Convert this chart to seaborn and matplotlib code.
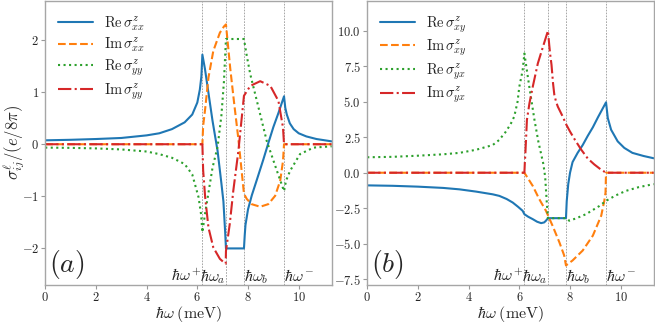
import matplotlib
matplotlib.use("Agg")
import matplotlib.pyplot as plt
import numpy as np
import pandas as pd
import seaborn as sns

# resonance energies (meV) and their labels
w_res = [6.2, 7.13, 7.84, 9.42]
w_res_labels = [r'$\hbar\omega^+$', r'$\hbar\omega_a$', r'$\hbar\omega_b$', r'$\hbar\omega^-$']
w_res_align = ['right', 'right', 'left', 'left']

# ---- panel (a): diagonal components ----
w_re_xx = [0, 1, 2, 3, 4, 4.5, 5, 5.5, 5.8, 6.0, 6.1, 6.16, 6.2, 6.3, 6.45, 6.6, 6.8, 6.95, 7.03, 7.1, 7.13,
           7.84, 7.87, 7.9, 8.0, 8.15, 8.35, 8.6, 8.8, 9.0, 9.2, 9.42,
           9.47, 9.53, 9.65, 9.8, 10.0, 10.3, 10.7, 11.3]
re_xx = [0.075, 0.085, 0.10, 0.12, 0.17, 0.21, 0.29, 0.42, 0.57, 0.80, 1.05, 1.3, 1.72, 1.45, 0.95, 0.45, -0.13, -0.75, -1.1, -1.7, -2.0,
         -2.0, -1.75, -1.55, -1.25, -0.98, -0.68, -0.3, 0.02, 0.33, 0.6, 0.92,
         0.7, 0.57, 0.4, 0.29, 0.21, 0.15, 0.1, 0.055]

w_im_xx = [0, 6.2, 6.23, 6.31, 6.44, 6.63, 6.89, 7.05, 7.13,
           7.3, 7.45, 7.62, 7.84, 7.95, 8.14, 8.48, 8.8, 9.07, 9.27, 9.38, 9.42, 11.3]
im_xx = [0, 0, 0.35, 0.68, 1.28, 1.79, 2.14, 2.26, 2.3,
         1.45, 0.8, 0.1, -0.95, -1.05, -1.15, -1.2, -1.15, -0.99, -0.7, -0.32, 0, 0]

w_re_yy = [0, 1, 2, 3, 4, 4.5, 5, 5.5, 5.8, 6.05, 6.15, 6.2,
           6.3, 6.45, 6.6, 6.8, 6.95, 7.05, 7.13, 7.84,
           7.95, 8.09, 8.35, 8.74, 9.14, 9.42,
           9.5, 9.66, 10.05, 10.58, 11.3]
re_yy = [-0.065, -0.07, -0.08, -0.1, -0.14, -0.19, -0.26, -0.38, -0.58, -1.02, -1.35, -1.69,
         -1.35, -0.9, -0.45, -0.05, 0.55, 1.2, 2.02, 2.02,
         1.7, 1.34, 0.83, 0.06, -0.51, -0.9,
         -0.7, -0.51, -0.19, -0.065, -0.04]

w_im_yy = [0, 6.2, 6.23, 6.31, 6.44, 6.63, 6.89, 7.05, 7.12, 7.13,
           7.28, 7.42, 7.62, 7.84, 8.09, 8.48, 8.88, 9.2, 9.38, 9.42, 11.3]
im_yy = [0, 0, -0.5, -1.02, -1.6, -1.98, -2.2, -2.27, -2.29, -2.05,
         -1.53, -0.89, -0.13, 0.93, 1.12, 1.21, 1.12, 0.83, 0.32, 0, 0]

# ---- panel (b): off-diagonal components ----
w_re_xy = [0, 1, 2, 3, 3.64, 4.3, 4.95, 5.21, 5.5, 5.74, 5.95, 6.13, 6.2, 6.35, 6.53, 6.7, 6.86, 6.98, 7.05, 7.13,
           7.84, 7.87, 7.93, 8.0, 8.1, 8.3, 8.5, 8.7, 8.9, 9.1, 9.42,
           9.49, 9.62, 9.88, 10.14, 10.46, 10.9, 11.3]
re_xy = [-0.89, -0.92, -0.98, -1.07, -1.17, -1.33, -1.52, -1.63, -1.85, -2.1, -2.4, -2.68, -2.92, -3.1, -3.27, -3.45, -3.55, -3.5, -3.38, -3.2,
         -3.2, -2.0, -0.8, 0.0, 0.75, 1.4, 1.95, 2.6, 3.2, 3.9, 4.96,
         3.85, 3.03, 2.21, 1.75, 1.4, 1.18, 1.02]

w_im_xy = [0, 6.2, 6.53, 6.79, 7.05, 7.31, 7.58, 7.77, 7.84,
           8.1, 8.5, 8.9, 9.23, 9.35, 9.4, 9.42, 11.3]
im_xy = [0, 0, -0.93, -1.87, -2.68, -3.73, -4.9, -5.83, -6.53,
         -6.18, -5.48, -4.43, -3.03, -2.0, -1.4, 0, 0]

w_re_yx = [0, 1, 2, 3, 3.64, 4.3, 4.95, 5.2, 5.45, 5.65, 5.8, 5.93, 6.0, 6.13, 6.2,
           6.39, 6.59, 6.75, 6.85, 6.95, 7.02, 7.08, 7.13, 7.84,
           7.97, 8.23, 8.63, 9.16, 9.42, 9.8, 10.2, 10.7, 11.3]
re_yx = [1.09, 1.12, 1.2, 1.3, 1.4, 1.62, 1.95, 2.3, 2.85, 3.4, 3.96, 5.0, 6.06, 7.2, 8.4,
         6.1, 3.8, 2.2, 1.4, 0.6, -0.3, -2.0, -3.2, -3.2,
         -3.38, -3.22, -2.92, -2.34, -1.98, -1.6, -1.28, -1.02, -0.8]

w_im_yx = [0, 6.2, 6.22, 6.24, 6.3, 6.4, 6.53, 6.73, 6.93, 7.13,
           7.18, 7.22, 7.27, 7.33, 7.38, 7.45, 7.52, 7.7, 7.85, 8.0, 8.2, 8.44, 8.7, 8.96, 9.2, 9.42, 11.3]
im_yx = [0, 0, 0.8, 1.4, 3.73, 4.9, 6.06, 7.7, 8.86, 10.0,
         9.0, 8.3, 7.6, 6.3, 5.5, 5.0, 4.65, 4.0, 3.4, 2.9, 2.3, 1.63, 1.0, 0.58, 0.25, 0, 0]

colors = ['#1f77b4', '#ff7f0e', '#2ca02c', '#d62728']
styles = ['-', '--', ':', '-.']

panel_a = [(w_re_xx, re_xx, r'$\mathrm{Re}\,\sigma^z_{xx}$'),
           (w_im_xx, im_xx, r'$\mathrm{Im}\,\sigma^z_{xx}$'),
           (w_re_yy, re_yy, r'$\mathrm{Re}\,\sigma^z_{yy}$'),
           (w_im_yy, im_yy, r'$\mathrm{Im}\,\sigma^z_{yy}$')]
panel_b = [(w_re_xy, re_xy, r'$\mathrm{Re}\,\sigma^z_{xy}$'),
           (w_im_xy, im_xy, r'$\mathrm{Im}\,\sigma^z_{xy}$'),
           (w_re_yx, re_yx, r'$\mathrm{Re}\,\sigma^z_{yx}$'),
           (w_im_yx, im_yx, r'$\mathrm{Im}\,\sigma^z_{yx}$')]

sns.set_style("ticks")
plt.rcParams['font.family'] = 'serif'
plt.rcParams['font.serif'] = ['cmr10']
plt.rcParams['mathtext.fontset'] = 'cm'
plt.rcParams['axes.formatter.use_mathtext'] = True
plt.rcParams['axes.unicode_minus'] = True


def draw_panel(ax, curves, ylim, yticks, tag):
    for (w, s, lab), c, ls in zip(curves, colors, styles):
        df = pd.DataFrame({'w': w, 's': s})
        sns.lineplot(data=df, x='w', y='s', ax=ax, color=c, linestyle=ls, linewidth=1.5,
                     label=lab, sort=False, estimator=None)
    for w0, txt, ha in zip(w_res, w_res_labels, w_res_align):
        ax.axvline(w0, color='0.6', lw=0.6, ls=(0, (2, 1.5)), zorder=0)
        ax.text(w0, ylim[0] + 0.012 * (ylim[1] - ylim[0]), txt, ha=ha, va='baseline', fontsize=11.5)
    ax.text(0.013, 0.012, tag, transform=ax.transAxes, ha='left', va='bottom', fontsize=20)
    ax.set_xlim(0, 11.3)
    ax.set_ylim(*ylim)
    ax.set_xticks([0, 2, 4, 6, 8, 10])
    ax.set_yticks(yticks)
    ax.set_xlabel(r'$\hbar\omega\;(\mathrm{meV})$', fontsize=11.5, labelpad=0)
    ax.set_ylabel('')
    ax.tick_params(labelsize=9, length=3, width=0.8, color='0.6', pad=1.5)
    for sp in ax.spines.values():
        sp.set_color('0.65')
        sp.set_linewidth(1.0)
    ax.legend(loc='upper left', frameon=False, fontsize=10.5, handlelength=2.4,
              handletextpad=0.7, labelspacing=0.2, borderaxespad=0.5)


fig, axes = plt.subplots(1, 2, figsize=(6.55, 3.23), dpi=100)
plt.subplots_adjust(left=0.069, right=0.998, top=0.997, bottom=0.118, wspace=0.124)

draw_panel(axes[0], panel_a, (-2.7, 2.75), [-2, -1, 0, 1, 2], r'$(a)$')
axes[0].set_ylabel(r'$\sigma^{\ell}_{ij}/(e/8\pi)$', fontsize=12)
axes[0].yaxis.set_label_coords(-0.064, 0.5)

draw_panel(axes[1], panel_b, (-7.9, 12.1), [-7.5, -5.0, -2.5, 0.0, 2.5, 5.0, 7.5, 10.0], r'$(b)$')
axes[1].yaxis.set_major_formatter(matplotlib.ticker.FormatStrFormatter(r'$%.1f$'))

fig.savefig('out.png', dpi=100)
